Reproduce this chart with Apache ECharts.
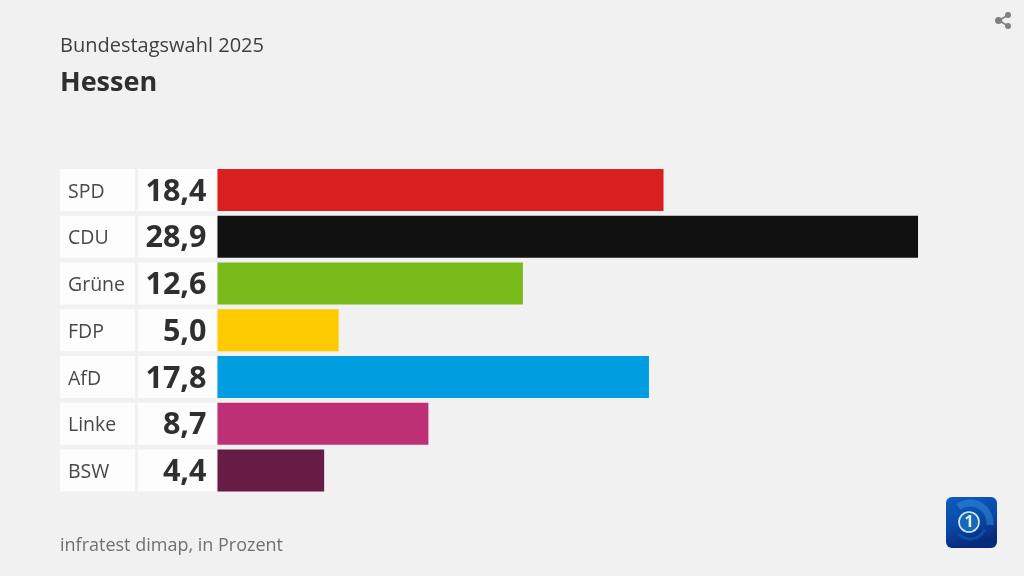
<!DOCTYPE html>
<html><head><meta charset="utf-8">
<style>html,body{margin:0;padding:0;background:#f1f1f1}#c{width:1024px;height:576px}</style>
<script src="https://cdn.jsdelivr.net/npm/echarts@6/dist/echarts.min.js"></script>
</head><body><div id="c"></div>
<script>
const parties = ['SPD','CDU','Grüne','FDP','AfD','Linke','BSW'];
const shares = [18.4,28.9,12.6,5.0,17.8,8.7,4.4];
const colors = ['#d9201e','#111111','#78bb1b','#ffcb00','#009ee0','#bd3075','#661c45'];
const heading = 'Bundestagswahl 2025';
const region = 'Hessen';
const source = 'infratest dimap, in Prozent';
const fontName = '"Open Sans", "Noto Sans", sans-serif';
const fmt = v => v.toFixed(1).replace('.', ',');
const chart = echarts.init(document.getElementById('c'), null, {renderer:'canvas'});
chart.setOption({
  animation:false,
  backgroundColor:'#f1f1f1',
  title:[
    {text:heading,left:60,top:36,padding:0,textStyle:{fontFamily:fontName,fontSize:20,fontWeight:400,color:'#3f3f3f'}},
    {text:region,left:60,top:70,padding:0,textStyle:{fontFamily:fontName,fontSize:27,fontWeight:700,color:'#2f2f2f'}},
    {text:source,left:60,top:537,padding:0,textStyle:{fontFamily:fontName,fontSize:18,fontWeight:400,color:'#707070'}}
  ],
  grid:{left:217.5,top:166.6,width:727.2,height:327.3,containLabel:false},
  xAxis:{type:'value',min:0,max:30,show:false},
  yAxis:{type:'category',inverse:true,data:parties,
    axisLine:{show:false},axisTick:{show:false},splitLine:{show:false},
    axisLabel:{margin:1,interval:0,
      formatter:(name,i)=>`{n|${name}}{g|}{v|${fmt(shares[i])}}`,
      rich:{
        n:{width:67,height:38,padding:[4,0,0,8],backgroundColor:'#fdfdfd',align:'left',verticalAlign:'middle',
           fontFamily:fontName,fontSize:19.5,color:'#484848',lineHeight:38},
        g:{width:3,height:38,padding:[4,0,0,0],backgroundColor:'transparent'},
        v:{width:68.5,height:38,padding:[4,10,0,0],backgroundColor:'#fdfdfd',align:'right',verticalAlign:'middle',
           fontFamily:fontName,fontSize:30.5,fontWeight:700,color:'#2f2f2f',lineHeight:38}
      }
    }
  },
  series:[{type:'bar',barWidth:42,silent:true,
    data:shares.map((v,i)=>({value:v,itemStyle:{color:colors[i]}}))}],
  graphic:[
    {type:'group',left:995,top:12,children:[
      {type:'line',shape:{x1:13,y1:3,x2:4,y2:8.5},style:{stroke:'#808080',lineWidth:1.5}},
      {type:'line',shape:{x1:4,y1:8.5,x2:13,y2:14},style:{stroke:'#808080',lineWidth:1.5}},
      {type:'circle',shape:{cx:3.6,cy:8.5,r:3.6},style:{fill:'#808080'}},
      {type:'circle',shape:{cx:13,cy:3,r:3},style:{fill:'#808080'}},
      {type:'circle',shape:{cx:13,cy:14,r:3},style:{fill:'#808080'}}
    ]},
    {type:'group',left:946,top:497,children:[
      {type:'rect',shape:{x:0,y:0,width:51,height:51,r:6},style:{fill:new echarts.graphic.LinearGradient(0,0,0.3,1,[{offset:0,color:'#0a5cc0'},{offset:0.55,color:'#0a4aa8'},{offset:1,color:'#062a7c'}])}},
      {type:'arc',shape:{cx:24,cy:26,r:20,startAngle:-2.2,endAngle:0.1},style:{stroke:'rgba(60,150,225,0.45)',lineWidth:7,fill:'none'}},
      {type:'arc',shape:{cx:24,cy:26,r:16,startAngle:0.4,endAngle:2.4},style:{stroke:'rgba(30,110,205,0.4)',lineWidth:3,fill:'none'}},
      {type:'circle',shape:{cx:23,cy:25,r:10},style:{fill:'#1668bb',stroke:'#d5e9f7',lineWidth:1.6}},
      {type:'text',style:{text:'1',x:23,y:25,align:'center',verticalAlign:'middle',fontFamily:fontName,fontSize:16,fontWeight:700,fill:'#e2f0fa'}}
    ]}
  ]
});
</script></body></html>
